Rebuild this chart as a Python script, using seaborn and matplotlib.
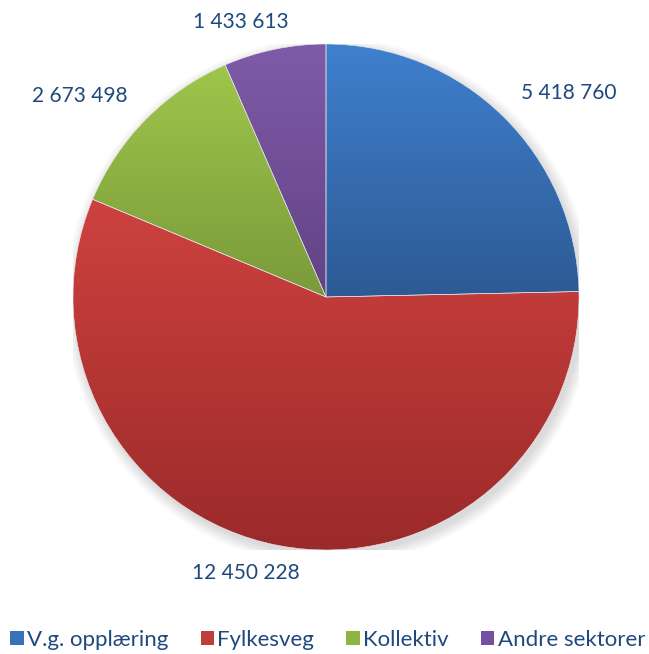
import numpy as np
import matplotlib.pyplot as plt
import matplotlib.colors as mcolors
from matplotlib.patches import Patch, Circle
import seaborn as sns

# data
categories = ['V.g. opplæring', 'Fylkesveg', 'Kollektiv', 'Andre sektorer']
values = [5418760, 12450228, 2673498, 1433613]

# gradient colours (top, bottom) like the Excel look
top_colors = ['#3F80CE', '#CE423F', '#9FC64B', '#7E5BA7']
bottom_colors = ['#2D5A94', '#9B2A2A', '#7A9A3A', '#644285']
mid_colors = ['#3A72BA', '#BF3E3B', '#8FB443', '#7450A0']
text_color = '#1F497D'

sns.set_theme(style='white')
plt.rcParams['font.family'] = ['Lato', 'DejaVu Sans']

fig = plt.figure(figsize=(6.49, 6.54), dpi=100)
W, H = 649, 654
cx, cy, r = 326, 297, 253
ax = fig.add_axes([(cx - r) / W, (H - cy - r) / H, 2 * r / W, 2 * r / H])

# soft shadow under the pie
for i in range(12):
    ax.add_patch(Circle((0.012, -0.018), 1.0 + 0.004 * i, color='black',
                        alpha=0.012, lw=0, zorder=0))

wedges, _ = ax.pie(values, colors=mid_colors, startangle=90, counterclock=False,
                   radius=1.0, wedgeprops=dict(linewidth=0.4, edgecolor='#E8E8F0'))

# vertical gradient inside each wedge
for w, c_top, c_bot in zip(wedges, top_colors, bottom_colors):
    ext = w.get_path().get_extents()
    cmap = mcolors.LinearSegmentedColormap.from_list('g', [c_top, c_bot])
    grad = np.linspace(0, 1, 256).reshape(-1, 1)
    im = ax.imshow(grad, cmap=cmap, extent=[ext.x0, ext.x1, ext.y0, ext.y1],
                   origin='upper', aspect='auto', interpolation='bicubic', zorder=2)
    im.set_clip_path(w)
    w.set_facecolor('none')
    w.set_zorder(3)

# value labels outside the slices
for w, v in zip(wedges, values):
    ang = np.deg2rad((w.theta1 + w.theta2) / 2)
    x, y = np.cos(ang), np.sin(ang)
    label = f'{v:,}'.replace(',', ' ')
    if abs(x) < 0.3:
        ax.text(1.11 * x - 0.11, 1.11 * y, label, ha='center', va='center',
                fontsize=15, color=text_color)
    else:
        ax.text(1.1 * x, 1.1 * y + 0.02, label, ha='left' if x > 0 else 'right',
                va='center', fontsize=15, color=text_color)

ax.set_xlim(-1, 1)
ax.set_ylim(-1, 1)
ax.set_aspect('auto')
ax.axis('off')

handles = [Patch(facecolor=c, edgecolor='none') for c in mid_colors]
fig.legend(handles, categories, loc='center', bbox_to_anchor=(0.505, 1 - 640 / H),
           ncol=4, frameon=False, fontsize=16, handlelength=0.6, handleheight=0.6,
           handletextpad=0.15, columnspacing=1.45, borderpad=0.1,
           labelcolor=text_color)

fig.savefig('out.png', dpi=100, facecolor='white')
